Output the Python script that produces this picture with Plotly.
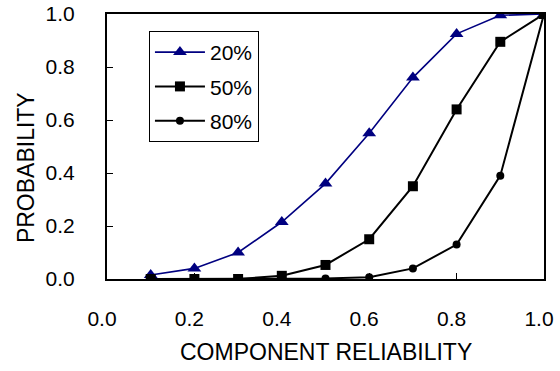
import plotly.graph_objects as go

x_vals = [0.1, 0.2, 0.3, 0.4, 0.5, 0.6, 0.7, 0.8, 0.9, 1.0]
p20 = [0.015, 0.04, 0.10, 0.215, 0.36, 0.55, 0.76, 0.925, 0.995, 1.0]
p50 = [0.0, 0.0, 0.0, 0.012, 0.053, 0.15, 0.35, 0.64, 0.895, 1.0]
p80 = [0.0, 0.0, 0.0, 0.0, 0.002, 0.007, 0.04, 0.13, 0.39, 1.0]
names = ["20%", "50%", "80%"]
tick_vals = [0.0, 0.2, 0.4, 0.6, 0.8, 1.0]
tick_text = ["0.0", "0.2", "0.4", "0.6", "0.8", "1.0"]

font = "Liberation Sans, Arial, sans-serif"

fig = go.Figure()
fig.add_trace(go.Scatter(x=x_vals, y=p20, name=names[0], mode="lines+markers", legendgroup="a",
                         line=dict(color="#000080", width=1.6),
                         marker=dict(symbol="triangle-up", size=12, color="#000080")))
fig.add_trace(go.Scatter(x=x_vals, y=p50, name=names[1], mode="lines+markers", legendgroup="b",
                         line=dict(color="black", width=2),
                         marker=dict(symbol="square", size=10, color="black")))
fig.add_trace(go.Scatter(x=x_vals, y=p80, name=names[2], mode="lines+markers", legendgroup="c",
                         line=dict(color="black", width=2),
                         marker=dict(symbol="circle", size=8, color="black")))

fig.update_layout(
    width=560, height=371, autosize=False,
    margin=dict(l=107, r=16, t=14, b=92, pad=0, autoexpand=False),
    paper_bgcolor="white", plot_bgcolor="white",
    font=dict(family=font, size=21, color="black"),
    showlegend=True,
    legend=dict(x=0.096, y=0.936, xanchor="left", yanchor="top",
                bordercolor="black", borderwidth=1, bgcolor="white",
                font=dict(size=21), tracegroupgap=4, itemwidth=50,
                entrywidth=100, entrywidthmode="pixels"),
    annotations=[
        dict(text="COMPONENT RELIABILITY", xref="paper", yref="paper",
             x=0.5, y=-0.275, xanchor="center", yanchor="middle",
             showarrow=False, font=dict(size=23)),
        dict(text="PROBABILITY", xref="paper", yref="paper",
             x=-0.185, y=0.419, xanchor="center", yanchor="middle",
             textangle=-90, showarrow=False, font=dict(size=23)),
    ],
)
fig.update_xaxes(range=[0, 1], tickvals=tick_vals, ticktext=tick_text, automargin=False,
                 showgrid=False, zeroline=False, showline=True, linecolor="black",
                 linewidth=2, mirror=True, ticks="inside", ticklen=6, tickwidth=1,
                 tickcolor="black", ticklabelstandoff=20, ticklabelshift=-5)
fig.update_yaxes(range=[0, 1], tickvals=tick_vals, ticktext=tick_text, automargin=False,
                 showgrid=False, zeroline=False, showline=True, linecolor="black",
                 linewidth=2, mirror=True, ticks="inside", ticklen=6, tickwidth=1,
                 tickcolor="black", ticklabelstandoff=26)

fig.write_html("out.html", config={"displayModeBar": False},
               post_script="document.body.style.margin='0';document.body.style.overflow='hidden';")
